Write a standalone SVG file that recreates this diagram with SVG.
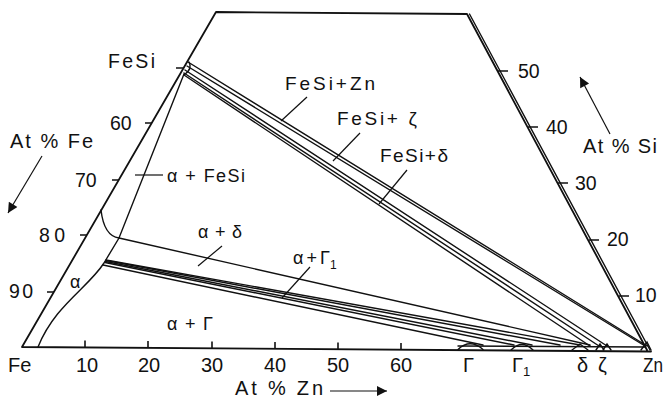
<svg xmlns="http://www.w3.org/2000/svg" width="665" height="399" viewBox="0 0 665 399">
<style>
.fr{stroke:#111;stroke-width:1.8;fill:none;stroke-linecap:round;stroke-linejoin:round}
.ln{stroke:#111;stroke-width:1.4;fill:none;stroke-linecap:round}
.tk{stroke:#111;stroke-width:1.6;fill:none}
.ld{stroke:#111;stroke-width:1.2;fill:none}
text{font-family:"Liberation Sans",Arial,sans-serif;fill:#111}
.ax{font-size:19.5px}
.bx{font-size:20px}
.ph{font-size:18px}
.ps{font-size:19px}
</style>
<defs>
<marker id="ah" viewBox="0 0 10 10" refX="10" refY="5" markerWidth="14" markerHeight="10" markerUnits="userSpaceOnUse" orient="auto">
<path d="M0,0 L10,5 L0,10 z" fill="#111"/>
</marker>
</defs>
<g id="frame">
<path class="fr" d="M651,351.5 L22,347 L216,12 L467,14 L647,350"/>
<path class="fr" d="M469.5,14 L650,350" style="stroke-width:1.4"/>
</g>
<g id="ticks">
<path class="tk" d="M176,68 H184 M145,123 H152 M112,180 H119 M80,235 H87 M47,292 H54"/>
<path class="tk" d="M85,347.4 V340.5 M148,347.9 V341 M212,348.4 V341.5 M275,348.8 V342 M338,349.3 V342.5 M401,349.7 V343"/>
<path class="tk" d="M498,71 H508 M528,127 H538 M558,183 H568 M589,240 H599 M619,296 H629"/>
</g>
<g id="phase-boundaries">
<path class="ln" d="M189,62 Q193,69 184,75"/>
<path class="ln" d="M184,74 L119,238 L104,263 C88,288 55,305 38,347"/>
<path class="ln" d="M101,210 Q104,236 119,238"/>
<path class="ln" d="M458,346 L645,347"/>
<path class="ln" d="M458,349.5 Q470,338 483,349.5"/>
<path class="ln" d="M511,350 Q522,339 533,350"/>
<path class="ln" d="M572,350 L580,344 L588,350"/>
<path class="ln" d="M596,350 L600,344 L604,350 M603,350 L607,344 L611,350"/>
<path class="ln" d="M641,350 L647,342 L651,350"/>
</g>
<g id="tie-lines">
<path class="ln" d="M119,238 L590,345"/>
<path class="ln" d="M106,260 L580,345"/>
<path class="ln" d="M106,260.5 L560,345"/>
<path class="ln" d="M105.5,261.5 L532,345"/>
<path class="ln" d="M105,262.5 L514,345"/>
<path class="ln" d="M103,265 L483,345"/>
<path class="ln" d="M188,62 L647,346"/>
<path class="ln" d="M187,66 L645,346"/>
<path class="ln" d="M185,70 L607,346"/>
<path class="ln" d="M184,73 L599,346"/>
<path class="ln" d="M184,75 L590,346"/>
</g>
<g id="leaders">
<path class="ld" d="M135,175 H163"/>
<path class="ld" d="M222,246 L198,266"/>
<path class="ld" d="M310,267 L282,298"/>
<path class="ld" d="M307,97 L281,121"/>
<path class="ld" d="M360,133 L333,161"/>
<path class="ld" d="M407,170 L379,204"/>
</g>
<g id="arrows">
<path class="ld" d="M42,156 L8,213" marker-end="url(#ah)"/>
<path class="ld" d="M610,134 L580,77" marker-end="url(#ah)"/>
<path class="ld" d="M330,391 L387,391" marker-end="url(#ah)"/>
</g>
<g id="axis-labels">
<text class="ax" x="108" y="68" textLength="47">FeSi</text>
<text class="ax" x="110" y="130">60</text>
<text class="ax" x="75" y="187">70</text>
<text class="ax" x="39" y="242" textLength="26">80</text>
<text class="ax" x="9" y="298" textLength="24">90</text>
<text class="bx" x="8" y="372">Fe</text>
<text class="bx" x="87" y="372" text-anchor="middle">10</text>
<text class="bx" x="149" y="372" text-anchor="middle">20</text>
<text class="bx" x="212" y="372" text-anchor="middle">30</text>
<text class="bx" x="275" y="372" text-anchor="middle">40</text>
<text class="bx" x="338" y="372" text-anchor="middle">50</text>
<text class="bx" x="401" y="372" text-anchor="middle">60</text>
<text class="bx" x="463" y="372">Γ</text>
<text class="bx" x="512" y="372">Γ<tspan font-size="13" dy="4">1</tspan></text>
<text class="bx" x="577" y="372">δ</text>
<text class="bx" x="598" y="372">ζ</text>
<text class="bx" x="643" y="372" textLength="20" lengthAdjust="spacingAndGlyphs">Zn</text>
<text class="ax" x="518" y="78">50</text>
<text class="ax" x="546" y="134">40</text>
<text class="ax" x="575" y="190">30</text>
<text class="ax" x="607" y="246">20</text>
<text class="ax" x="635" y="302">10</text>
<text class="bx" x="10" y="148" textLength="83">At % Fe</text>
<text class="bx" x="583" y="153" textLength="74">At % Si</text>
<text class="bx" x="235" y="395" textLength="88">At % Zn</text>
</g>
<g id="phase-labels">
<text class="ph" x="167" y="182" textLength="78">α + FeSi</text>
<text class="ph" x="70" y="288">α</text>
<text class="ph" x="198" y="238" textLength="44">α + δ</text>
<text class="ph" x="167" y="330" textLength="46">α + Γ</text>
<text class="ph" x="293" y="264" textLength="37">α + Γ</text>
<text x="330" y="269" font-size="12">1</text>
<text class="ps" x="285" y="90" textLength="90">FeSi+Zn</text>
<text class="ps" x="337" y="125" textLength="80">FeSi+ ζ</text>
<text class="ps" x="380" y="162" textLength="68">FeSi+δ</text>
</g>
</svg>
